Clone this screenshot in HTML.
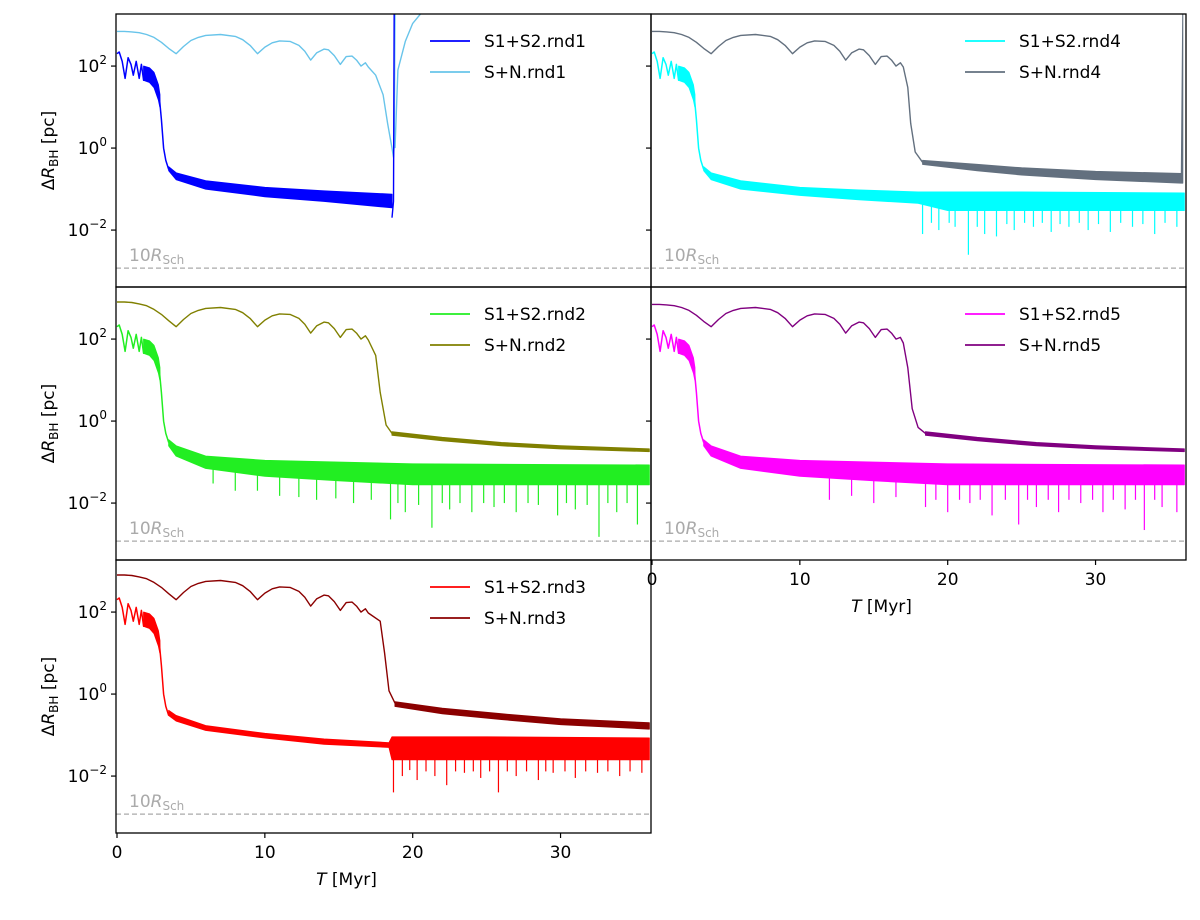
<!DOCTYPE html>
<html><head><meta charset="utf-8">
<style>
body{margin:0;background:#fff;}
svg text{font-family:"DejaVu Sans","Liberation Sans",sans-serif;}
</style></head>
<body>
<svg id="fig" width="1200" height="915" xmlns="http://www.w3.org/2000/svg"></svg>
<script>
// ---------- data ----------
const xTicks = [0, 10, 20, 30];
const xTickLabels = ["0", "10", "20", "30"];
const yTickExp = [2, 0, -2];
const schRadius = 1.18e-3;

const s12Early = [[0,200],[0.15,220],[0.35,130],[0.55,50],[0.75,160],[0.95,110],[1.1,60],[1.3,130],[1.5,50],[1.65,110],[1.8,45],[1.95,90],[2.1,50],[2.25,80],[2.4,40],[2.55,60],[2.7,30],[2.85,20],[3.0,5],[3.15,1],[3.3,0.5],[3.5,0.3]];
const s12EarlyUpper = [[1.8,100],[2.2,90],[2.5,70],[2.8,35],[2.9,20]];
const s12EarlyLower = [[1.8,45],[2.2,40],[2.5,30],[2.8,15],[2.9,10]];

const snEarly = [[0,700],[0.5,700],[1,680],[1.5,650],[2,590],[2.5,500],[3,380],[3.5,270],[4,200],[4.5,300],[5,420],[5.5,500],[6,560],[7,590],[8,530],[8.5,440],[9,320],[9.5,200],[10,290],[10.5,370],[11,410],[11.7,400],[12.3,320],[12.7,230],[13.1,140],[13.5,210],[14,260],[14.3,250],[14.7,180],[15.1,110],[15.5,170],[15.9,175],[16.2,140],[16.5,100],[16.8,120],[17,95]];

const rnd1_s12_upper = [[3.5,0.35],[4,0.25],[6,0.16],[10,0.11],[14,0.09],[18.6,0.075]];
const rnd1_s12_lower = [[3.5,0.28],[4,0.17],[6,0.1],[10,0.065],[14,0.05],[18.6,0.035]];
const rnd1_s12_tail = [[18.6,0.02],[18.7,0.05],[18.75,3000]];
const rnd1_sn = snEarly.concat([[17.5,60],[18,20],[18.3,4],[18.6,1],[18.7,0.6],[18.75,1.2],[18.8,3000]]);
const rnd1_sn_tail = [[18.8,1],[19,80],[19.5,400],[20,1100],[21,3000]];
const rnd1_spikes = [];

const rnd4_s12_upper = [[3.5,0.35],[4,0.25],[6,0.16],[10,0.11],[14,0.095],[18,0.085],[25,0.085],[36,0.08]];
const rnd4_s12_lower = [[3.5,0.28],[4,0.17],[6,0.1],[10,0.07],[14,0.055],[18,0.045],[20,0.03],[36,0.03]];
const rnd4_spikes = [[18.3,0.008],[18.9,0.015],[19.4,0.01],[20.1,0.015],[20.5,0.012],[21.4,0.0025],[22,0.012],[22.5,0.008],[23.3,0.007],[24,0.014],[24.5,0.01],[25.2,0.015],[25.8,0.012],[26.4,0.015],[27,0.009],[27.6,0.014],[28.2,0.012],[28.9,0.015],[29.5,0.01],[30.2,0.014],[31,0.009],[31.7,0.015],[32.5,0.012],[33.2,0.014],[34,0.008],[34.7,0.015],[35.5,0.012]];
const rnd4_sn = snEarly.concat([[17.3,30],[17.5,4],[17.8,0.8],[18.3,0.45]]);
const rnd4_sn_upper = [[18.3,0.5],[22,0.4],[25,0.33],[30,0.27],[35.8,0.24],[35.9,3000]];
const rnd4_sn_lower = [[18.3,0.4],[22,0.28],[25,0.22],[30,0.17],[35.8,0.14],[35.9,0.14]];

const rnd2_s12_upper = [[3.5,0.35],[4,0.25],[6,0.14],[10,0.11],[15,0.1],[20,0.09],[36,0.085]];
const rnd2_s12_lower = [[3.5,0.25],[4,0.14],[6,0.07],[10,0.045],[15,0.035],[20,0.028],[36,0.028]];
const rnd2_spikes = [[6.5,0.03],[8,0.02],[9.5,0.02],[11,0.015],[12.3,0.014],[13.5,0.012],[14.8,0.013],[16,0.01],[17.2,0.012],[18.5,0.004],[19,0.01],[19.5,0.006],[20.4,0.009],[21.3,0.0025],[22,0.01],[22.5,0.007],[23.2,0.01],[24,0.006],[24.8,0.01],[25.5,0.008],[26.2,0.01],[27,0.006],[27.8,0.01],[28.5,0.009],[29.8,0.005],[30.4,0.01],[31,0.007],[31.8,0.009],[32.6,0.0015],[33.2,0.01],[33.8,0.006],[34.5,0.01],[35.2,0.003]];
const rnd2_sn = [[0,800],[0.5,800],[1,780],[1.5,720],[2,650],[2.5,530],[3,400],[3.5,280],[4,200],[4.5,300],[5,420],[5.5,500],[6,560],[7,590],[8,530],[8.5,440],[9,320],[9.5,200],[10,290],[10.5,370],[11,410],[11.7,400],[12.3,320],[12.7,230],[13.1,140],[13.5,210],[14,260],[14.3,250],[14.7,180],[15.1,110],[15.5,170],[15.9,175],[16.2,140],[16.5,100],[16.8,120],[17,95],[17.5,40],[17.8,5],[18.2,0.8],[18.6,0.5]];
const rnd2_sn_upper = [[18.6,0.55],[22,0.4],[26,0.3],[30,0.25],[36,0.21]];
const rnd2_sn_lower = [[18.6,0.45],[22,0.33],[26,0.25],[30,0.21],[36,0.18]];

const rnd5_s12_upper = [[3.5,0.35],[4,0.25],[6,0.14],[10,0.11],[15,0.1],[20,0.09],[36,0.085]];
const rnd5_s12_lower = [[3.5,0.25],[4,0.14],[6,0.07],[10,0.045],[15,0.035],[20,0.028],[36,0.028]];
const rnd5_spikes = [[12,0.012],[13.5,0.015],[15,0.01],[16.5,0.014],[18.5,0.008],[19.2,0.012],[20,0.006],[20.8,0.012],[21.5,0.01],[22.2,0.012],[23,0.005],[23.9,0.012],[24.8,0.003],[25.4,0.012],[26,0.008],[26.8,0.012],[27.5,0.006],[28.2,0.012],[29,0.01],[29.8,0.012],[30.5,0.006],[31.2,0.012],[32,0.007],[32.7,0.012],[33.3,0.0022],[34,0.012],[34.5,0.008],[35.5,0.006]];
const rnd5_sn = [[0,700],[0.5,700],[1,680],[1.5,650],[2,590],[2.5,500],[3,380],[3.5,270],[4,200],[4.5,300],[5,420],[5.5,500],[6,560],[7,590],[8,530],[8.5,440],[9,320],[9.5,200],[10,290],[10.5,370],[11,410],[11.7,400],[12.3,320],[12.7,230],[13.1,140],[13.5,210],[14,260],[14.3,250],[14.7,180],[15.1,110],[15.5,170],[15.9,175],[16.2,140],[16.5,100],[16.8,110],[17,80],[17.3,20],[17.6,2],[18,0.7],[18.5,0.5]];
const rnd5_sn_upper = [[18.5,0.55],[22,0.4],[26,0.3],[30,0.25],[36,0.21]];
const rnd5_sn_lower = [[18.5,0.45],[22,0.33],[26,0.25],[30,0.21],[36,0.18]];

const rnd3_s12_upper = [[3.5,0.4],[4,0.3],[6,0.17],[10,0.11],[14,0.08],[18.4,0.065],[18.6,0.09],[25,0.09],[36,0.085]];
const rnd3_s12_lower = [[3.5,0.3],[4,0.22],[6,0.13],[10,0.085],[14,0.06],[18.4,0.05],[18.6,0.025],[25,0.025],[36,0.025]];
const rnd3_spikes = [[18.7,0.004],[19.3,0.01],[19.8,0.014],[20.3,0.008],[20.9,0.013],[21.5,0.01],[22.3,0.006],[22.9,0.013],[23.5,0.012],[24.1,0.013],[24.6,0.009],[25.2,0.013],[25.8,0.004],[26.4,0.013],[27,0.01],[27.7,0.013],[28.5,0.008],[29,0.013],[29.5,0.012],[30.3,0.013],[31,0.009],[31.7,0.013],[32.5,0.012],[33.2,0.013],[34,0.01],[34.7,0.013],[35.5,0.012]];
const rnd3_sn = [[0,800],[0.5,800],[1,780],[1.5,720],[2,650],[2.5,530],[3,400],[3.5,280],[4,200],[4.5,300],[5,420],[5.5,500],[6,560],[7,590],[8,530],[8.5,440],[9,320],[9.5,200],[10,290],[10.5,370],[11,410],[11.7,400],[12.3,320],[12.7,230],[13.1,140],[13.5,210],[14,260],[14.3,250],[14.7,180],[15.1,110],[15.5,170],[15.9,175],[16.2,140],[16.5,100],[16.8,120],[17,95],[17.8,60],[18.1,10],[18.4,1.2],[18.8,0.6]];
const rnd3_sn_upper = [[18.8,0.65],[22,0.45],[26,0.33],[30,0.25],[36,0.2]];
const rnd3_sn_lower = [[18.8,0.5],[22,0.33],[26,0.24],[30,0.18],[36,0.14]];

// ---------- layout ----------
const NS = "http://www.w3.org/2000/svg";
const svg = document.getElementById('fig');
const TMAX = 36.05, LMAX = 3.27, PXDEC = 41;
function mk(tag, attrs, parent){const e=document.createElementNS(NS,tag);for(const k in attrs)e.setAttribute(k,attrs[k]);(parent||svg).appendChild(e);return e;}

function panel(cfg){
  const L=cfg.x0, T=cfg.y0, W=535, H=273;
  const g = mk('g',{});
  
  
  const cid='clip'+cfg.name;
  const cp=mk('clipPath',{id:cid},g); mk('rect',{x:L,y:T,width:W,height:H},cp);
  const xs=t=>L+1+t*(W-2)/TMAX;
  const ys=v=>T+(LMAX-Math.log10(v))*PXDEC;
  const inner=mk('g',{'clip-path':'url(#'+cid+')'},g);
  const pts=a=>a.map(p=>xs(p[0]).toFixed(1)+','+ys(p[1]).toFixed(1)).join(' ');
  const dl=mk('line',{x1:L,x2:L+W,y1:ys(schRadius),y2:ys(schRadius),stroke:'#aaa','stroke-width':1.2,'stroke-dasharray':'5,3'},inner);
  
  
  const st=mk('text',{x:L+13,y:ys(schRadius)-7,'font-size':17,fill:'#aaa'},g);
  
  
  st.innerHTML='10<tspan font-style="italic">R</tspan><tspan font-size="12" dy="3">Sch</tspan>';
  function band(up,lo,color,nm){
    const poly=mk('polygon',{points:pts(up)+' '+pts(lo.slice().reverse()),fill:color,stroke:color,'stroke-width':1,'stroke-linejoin':'round'},inner);
    
    
  }
  function line(a,color,nm,w){
    const pl=mk('polyline',{points:pts(a),fill:'none',stroke:color,'stroke-width':w||1.4,'stroke-linejoin':'round'},inner);
    
    
  }
  function interpLog(a,t){for(let i=1;i<a.length;i++){if(t<=a[i][0]){const f=(t-a[i-1][0])/(a[i][0]-a[i-1][0]);return Math.pow(10,Math.log10(a[i-1][1])*(1-f)+Math.log10(a[i][1])*f);}}return a[a.length-1][1];}
  line(cfg.sn,cfg.c2,'sn-line');
  if(cfg.snUp) band(cfg.snUp,cfg.snLo,cfg.c2,'sn-band');
  if(cfg.snTail) line(cfg.snTail,cfg.c2,'sn-tail');
  line(s12Early,cfg.c1,'s12-early-line',1.5);
  band(s12EarlyUpper,s12EarlyLower,cfg.c1,'s12-early-band');
  band(cfg.up,cfg.lo,cfg.c1,'s12-band');
  if(cfg.tail) line(cfg.tail,cfg.c1,'s12-tail');
  cfg.spikes.forEach(s=>{
    const sp=mk('line',{x1:xs(s[0]),x2:xs(s[0]),y1:ys(interpLog(cfg.lo,s[0])),y2:ys(s[1]),stroke:cfg.c1,'stroke-width':1.2},inner);
    
    
  });
  const fr=mk('rect',{x:L,y:T,width:W,height:H,fill:'none',stroke:'#000','stroke-width':1.3},g);
  
  
  yTickExp.forEach(e=>{
    const y=ys(Math.pow(10,e));
    mk('line',{x1:L-5,x2:L,y1:y,y2:y,stroke:'#000','stroke-width':1.2},g);
    if(cfg.ylabels){
      const tx=mk('text',{x:L-9,y:y+6,'font-size':17,'text-anchor':'end'},g);
      
      
      tx.innerHTML='10<tspan font-size="12" dy="-8">'+(e<0?'\u2212'+(-e):e)+'</tspan>';
    }
  });
  if(cfg.ylabels){
    const yl=mk('text',{x:0,y:0,'font-size':17,'text-anchor':'middle',transform:'translate('+(L-62)+','+(T+H/2)+') rotate(-90)'},g);
    
    
    yl.innerHTML='\u0394<tspan font-style="italic">R</tspan><tspan font-size="12" dy="4">BH</tspan><tspan dy="-4"> [pc]</tspan>';
  }
  if(cfg.xlabels){
    xTicks.forEach((t,i)=>{
      mk('line',{x1:xs(t),x2:xs(t),y1:T+H,y2:T+H+5,stroke:'#000','stroke-width':1.2},g);
      const tx=mk('text',{x:xs(t),y:T+H+25,'font-size':17,'text-anchor':'middle'},g);
      
      
      tx.textContent=xTickLabels[i];
    });
    const xl=mk('text',{x:L+W/2-37,y:T+H+52,'font-size':17,'text-anchor':'middle'},g);
    
    
    xl.innerHTML='<tspan font-style="italic">T</tspan> [Myr]';
  }
  [[cfg.c1,cfg.l1],[cfg.c2,cfg.l2]].forEach((it,i)=>{
    const y=T+33+i*31;
    const lg=mk('g',{},g);
    
    
    mk('line',{x1:L+314,x2:L+354,y1:y-6,y2:y-6,stroke:it[0],'stroke-width':1.8},lg);
    const tx=mk('text',{x:L+368,y:y,'font-size':17},lg);
    tx.textContent=it[1];
  });
}

panel({name:'panel-rnd1',x0:116,y0:14,sn:rnd1_sn,snTail:rnd1_sn_tail,up:rnd1_s12_upper,lo:rnd1_s12_lower,tail:rnd1_s12_tail,spikes:rnd1_spikes,c1:'#0000ff',c2:'#68c4ea',l1:'S1+S2.rnd1',l2:'S+N.rnd1',ylabels:true});
panel({name:'panel-rnd4',x0:651,y0:14,sn:rnd4_sn,snUp:rnd4_sn_upper,snLo:rnd4_sn_lower,up:rnd4_s12_upper,lo:rnd4_s12_lower,spikes:rnd4_spikes,c1:'#00ffff',c2:'#63707f',l1:'S1+S2.rnd4',l2:'S+N.rnd4'});
panel({name:'panel-rnd2',x0:116,y0:287,sn:rnd2_sn,snUp:rnd2_sn_upper,snLo:rnd2_sn_lower,up:rnd2_s12_upper,lo:rnd2_s12_lower,spikes:rnd2_spikes,c1:'#22ee22',c2:'#808000',l1:'S1+S2.rnd2',l2:'S+N.rnd2',ylabels:true});
panel({name:'panel-rnd5',x0:651,y0:287,sn:rnd5_sn,snUp:rnd5_sn_upper,snLo:rnd5_sn_lower,up:rnd5_s12_upper,lo:rnd5_s12_lower,spikes:rnd5_spikes,c1:'#ff00ff',c2:'#800080',l1:'S1+S2.rnd5',l2:'S+N.rnd5',xlabels:true});
panel({name:'panel-rnd3',x0:116,y0:560,sn:rnd3_sn,snUp:rnd3_sn_upper,snLo:rnd3_sn_lower,up:rnd3_s12_upper,lo:rnd3_s12_lower,spikes:rnd3_spikes,c1:'#ff0000',c2:'#8b0000',l1:'S1+S2.rnd3',l2:'S+N.rnd3',ylabels:true,xlabels:true});
</script>
</body></html>
